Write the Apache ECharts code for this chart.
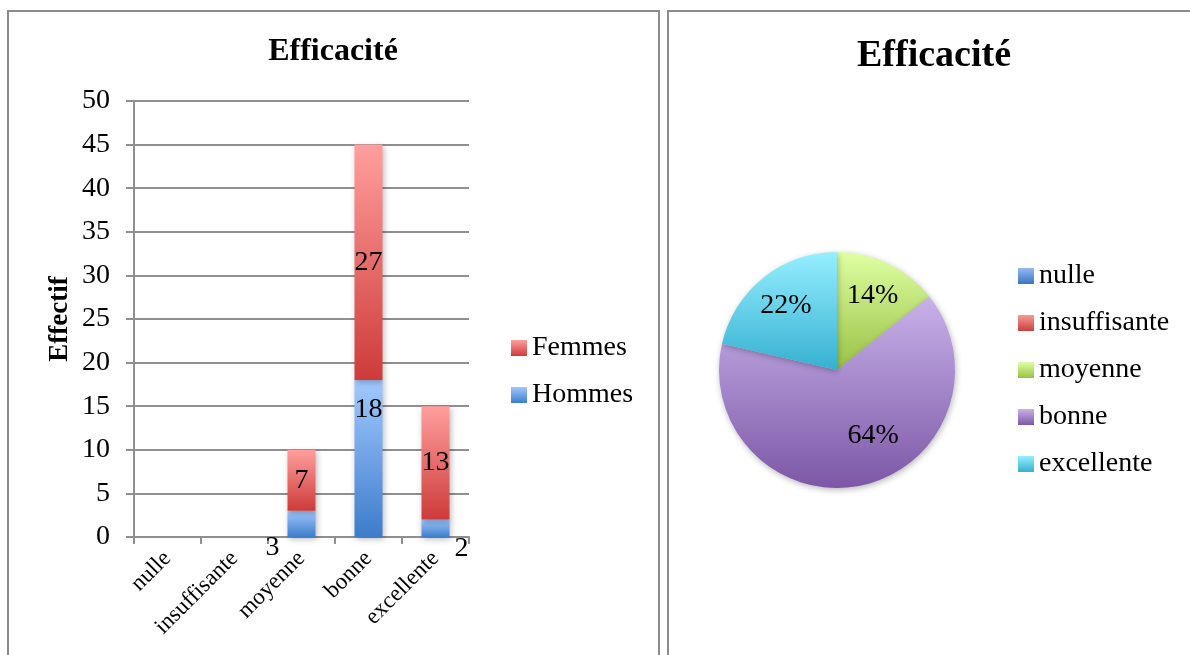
<!DOCTYPE html>
<html>
<head>
<meta charset="utf-8">
<script src="https://cdn.jsdelivr.net/npm/echarts@6/dist/echarts.min.js"></script>
<style>
html,body{margin:0;padding:0;background:#fff;}
#chart{width:1190px;height:655px;}
</style>
</head>
<body>
<div id="chart"></div>
<script>
// ---- data ----
const categories = ['nulle', 'insuffisante', 'moyenne', 'bonne', 'excellente'];
const hommes = [0, 0, 3, 18, 2];
const femmes = [0, 0, 7, 27, 13];
const pieValues = [0, 0, 10, 45, 15];
const yTicks = [0, 5, 10, 15, 20, 25, 30, 35, 40, 45, 50];
const barTitle = 'Efficacité';
const pieTitle = 'Efficacité';
const yAxisName = 'Effectif';

// ---- styles ----
const FONT = '"Liberation Serif", "Times New Roman", serif';
const GRID = '#8f8f8f';
function grad(top, bottom) {
  return new echarts.graphic.LinearGradient(0, 0, 0, 1, [
    { offset: 0, color: top }, { offset: 1, color: bottom }
  ]);
}
const femmesColor = grad('#ff9f9d', '#cd3b39');
const hommesColor = grad('#a1c9ff', '#3d7cca');
const pieColors = [
  grad('#93b9f2', '#3b74c2'),
  grad('#f99a97', '#c9403d'),
  grad('#dfffa2', '#99c145'),
  grad('#c8b2ea', '#7c57a6'),
  grad('#95efff', '#36b0d1')
];
const shadow = { shadowBlur: 6, shadowColor: 'rgba(0,0,0,0.28)', shadowOffsetX: 1, shadowOffsetY: 2 };

// label placements for the Hommes series (by category index)
const hommesLabelPlace = {
  2: [-29, 24],
  3: [0, -49],
  4: [26, 20]
};

const hommesData = hommes.map((v, i) => {
  const item = { value: v };
  if (hommesLabelPlace[i]) item.label = { offset: hommesLabelPlace[i] };
  return item;
});

const labelFmt = p => (p.value ? String(p.value) : '');

const chart = echarts.init(document.getElementById('chart'), null, { renderer: 'canvas' });
chart.setOption({
  animation: false,
  textStyle: { fontFamily: FONT, color: '#000' },
  graphic: [
    { type: 'rect', shape: { x: 8, y: 11, width: 651, height: 700 },
      style: { fill: 'none', stroke: '#8c8c8c', lineWidth: 2 }, silent: true },
    { type: 'rect', shape: { x: 668, y: 11, width: 600, height: 700 },
      style: { fill: 'none', stroke: '#8c8c8c', lineWidth: 2 }, silent: true },
    { type: 'text', x: 333, y: 52,
      style: { text: barTitle, font: 'bold 32px ' + FONT, fill: '#000', textAlign: 'center', textVerticalAlign: 'middle' } },
    { type: 'text', x: 934, y: 56,
      style: { text: pieTitle, font: 'bold 38px ' + FONT, fill: '#000', textAlign: 'center', textVerticalAlign: 'middle' } }
  ],
  legend: [
    {
      orient: 'vertical', left: 511, top: 334, padding: 0, itemWidth: 16, itemHeight: 16, itemGap: 19,
      data: ['Femmes', 'Hommes'], icon: 'rect',
      textStyle: { fontFamily: FONT, fontSize: 28, lineHeight: 28, color: '#000' }
    },
    {
      orient: 'vertical', left: 1018, top: 262, padding: 0, itemWidth: 16, itemHeight: 16, itemGap: 19,
      data: categories, icon: 'rect',
      textStyle: { fontFamily: FONT, fontSize: 28, lineHeight: 28, color: '#000' }
    }
  ],
  grid: { left: 134, top: 101, width: 335, height: 436, containLabel: false },
  xAxis: {
    type: 'category', data: categories, boundaryGap: true,
    axisLine: { show: true, lineStyle: { color: GRID, width: 2 } },
    axisTick: { show: true, alignWithLabel: false, length: 7, lineStyle: { color: GRID, width: 2 } },
    axisLabel: { rotate: 45, fontFamily: FONT, fontSize: 23, color: '#000', margin: 18, interval: 0 },
    splitLine: { show: false }
  },
  yAxis: {
    type: 'value', min: yTicks[0], max: yTicks[yTicks.length - 1], interval: yTicks[1] - yTicks[0],
    name: yAxisName, nameLocation: 'middle', nameGap: 60, nameRotate: 90,
    nameTextStyle: { fontFamily: FONT, fontSize: 27, fontWeight: 'bold', color: '#000' },
    axisLine: { show: true, lineStyle: { color: GRID, width: 2 } },
    axisTick: { show: true, length: 8, lineStyle: { color: GRID, width: 2 } },
    axisLabel: { fontFamily: FONT, fontSize: 28, color: '#000', margin: 24 },
    splitLine: { show: true, lineStyle: { color: GRID, width: 2 } }
  },
  series: [
    {
      name: 'Hommes', type: 'bar', stack: 'total', barWidth: 28, data: hommesData,
      itemStyle: Object.assign({ color: hommesColor }, shadow),
      label: { show: true, position: 'inside', fontFamily: FONT, fontSize: 28, color: '#000', formatter: labelFmt }
    },
    {
      name: 'Femmes', type: 'bar', stack: 'total', barWidth: 28, data: femmes,
      itemStyle: Object.assign({ color: femmesColor }, shadow),
      label: { show: true, position: 'inside', fontFamily: FONT, fontSize: 28, color: '#000', formatter: labelFmt }
    },
    {
      name: 'pie', type: 'pie', center: [837, 370], radius: [0, 118], startAngle: 90, clockwise: true,
      percentPrecision: 0, silent: true,
      data: categories.map((c, i) => ({ name: c, value: pieValues[i], itemStyle: { color: pieColors[i] } })),
      itemStyle: shadow,
      label: { show: false }, labelLine: { show: false },
      emphasis: { disabled: true }
    },
    {
      name: 'pieLabels', type: 'pie', center: [837, 370], radius: [40, 118], startAngle: 90, clockwise: true,
      percentPrecision: 0, silent: true, z: 5,
      data: categories.map((c, i) => ({ name: c, value: pieValues[i] })),
      itemStyle: { color: 'rgba(0,0,0,0)' },
      label: {
        show: true, position: 'inside', fontFamily: FONT, fontSize: 28, color: '#000',
        formatter: p => (p.value ? p.percent + '%' : '')
      },
      labelLine: { show: false },
      labelLayout: p => (p.dataIndex === 3 ? { dx: 18, dy: -14 } : {}),
      emphasis: { disabled: true }
    }
  ]
});
</script>
</body>
</html>
